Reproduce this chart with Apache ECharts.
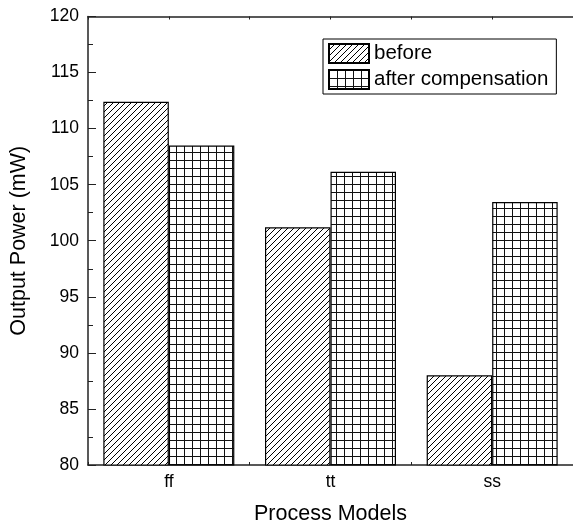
<!DOCTYPE html>
<html>
<head>
<meta charset="utf-8">
<script src="https://cdn.jsdelivr.net/npm/echarts@6/dist/echarts.min.js"></script>
<style>html,body{margin:0;padding:0;background:#fff;}#c{width:573px;height:530px;}</style>
</head>
<body>
<div id="c"></div>
<script>
var categories = ['ff', 'tt', 'ss'];
var beforeValues = [112.4, 101.2, 88.0];
var afterValues = [108.5, 106.15, 103.45];
var seriesNames = ['before', 'after compensation'];

function hatchPattern() {
  var s = 6, c = document.createElement('canvas');
  c.width = s; c.height = s;
  var g = c.getContext('2d');
  g.fillStyle = '#fff'; g.fillRect(0, 0, s, s);
  g.strokeStyle = '#000'; g.lineWidth = 1;
  g.beginPath();
  g.moveTo(0, s); g.lineTo(s, 0);
  g.moveTo(-s, s); g.lineTo(s, -s);
  g.moveTo(0, 2 * s); g.lineTo(2 * s, 0);
  g.stroke();
  return c;
}
function gridPattern() {
  var s = 8, c = document.createElement('canvas');
  c.width = s; c.height = s;
  var g = c.getContext('2d');
  g.fillStyle = '#fff'; g.fillRect(0, 0, s, s);
  g.fillStyle = '#111';
  g.fillRect(0, 0, s, 1);
  g.fillRect(0, 0, 1, s);
  return c;
}

var font = 'Liberation Sans, Arial, Helvetica, sans-serif';
var chart = echarts.init(document.getElementById('c'), null, {renderer: 'canvas'});

chart.setOption({
  animation: false,
  backgroundColor: '#fff',
  grid: {left: 86.5, top: 16.5, width: 488, height: 450.7, containLabel: false},
  legend: {
    left: 323, top: 39, orient: 'vertical',
    icon: 'rect',
    itemWidth: 40, itemHeight: 19, itemGap: 5,
    padding: [4, 8, 4, 5],
    borderColor: '#000', borderWidth: 1,
    textStyle: {fontFamily: font, fontSize: 20.5, color: '#000'},
    data: seriesNames
  },
  xAxis: [{
    type: 'category', data: categories,
    position: 'bottom', boundaryGap: true,
    name: 'Process Models', nameLocation: 'middle', nameGap: 38,
    nameTextStyle: {fontFamily: font, fontSize: 21.5, color: '#000'},
    axisLine: {show: true, lineStyle: {color: '#222', width: 1.5}},
    axisTick: {show: true, inside: true, length: 3, lineStyle: {color: '#222'}},
    axisLabel: {fontFamily: font, fontSize: 17.5, color: '#000', margin: 8},
    splitLine: {show: false}
  }, {
    type: 'value', min: 0.5, max: 3.5, interval: 0.5,
    position: 'top',
    axisLine: {show: true, lineStyle: {color: '#222', width: 1.5}},
    axisTick: {show: true, inside: true, length: 3, lineStyle: {color: '#222'}},
    axisLabel: {show: false},
    splitLine: {show: false}
  }],
  yAxis: {
    type: 'value', min: 80, max: 120, interval: 5,
    name: 'Output Power (mW)', nameLocation: 'middle', nameGap: 58,
    nameTextStyle: {fontFamily: font, fontSize: 21.5, color: '#000'},
    axisLine: {show: true, lineStyle: {color: '#222', width: 1.5}},
    axisTick: {show: true, inside: true, length: 8, lineStyle: {color: '#222', width: 1}},
    minorTick: {show: true, splitNumber: 2, length: 5, lineStyle: {color: '#222', width: 1}},
    axisLabel: {fontFamily: font, fontSize: 17.5, color: '#000', margin: 9},
    splitLine: {show: false}
  },
  series: [{
    name: seriesNames[0], type: 'bar', xAxisIndex: 0,
    barWidth: 65.5, barGap: '0%',
    data: beforeValues,
    itemStyle: {color: {image: hatchPattern(), repeat: 'repeat'}, borderColor: '#000', borderWidth: 1.2}
  }, {
    name: seriesNames[1], type: 'bar', xAxisIndex: 0,
    barWidth: 65.5, barGap: '0%',
    data: afterValues,
    itemStyle: {color: {image: gridPattern(), repeat: 'repeat'}, borderColor: '#000', borderWidth: 1.2}
  }]
});
</script>
</body>
</html>
